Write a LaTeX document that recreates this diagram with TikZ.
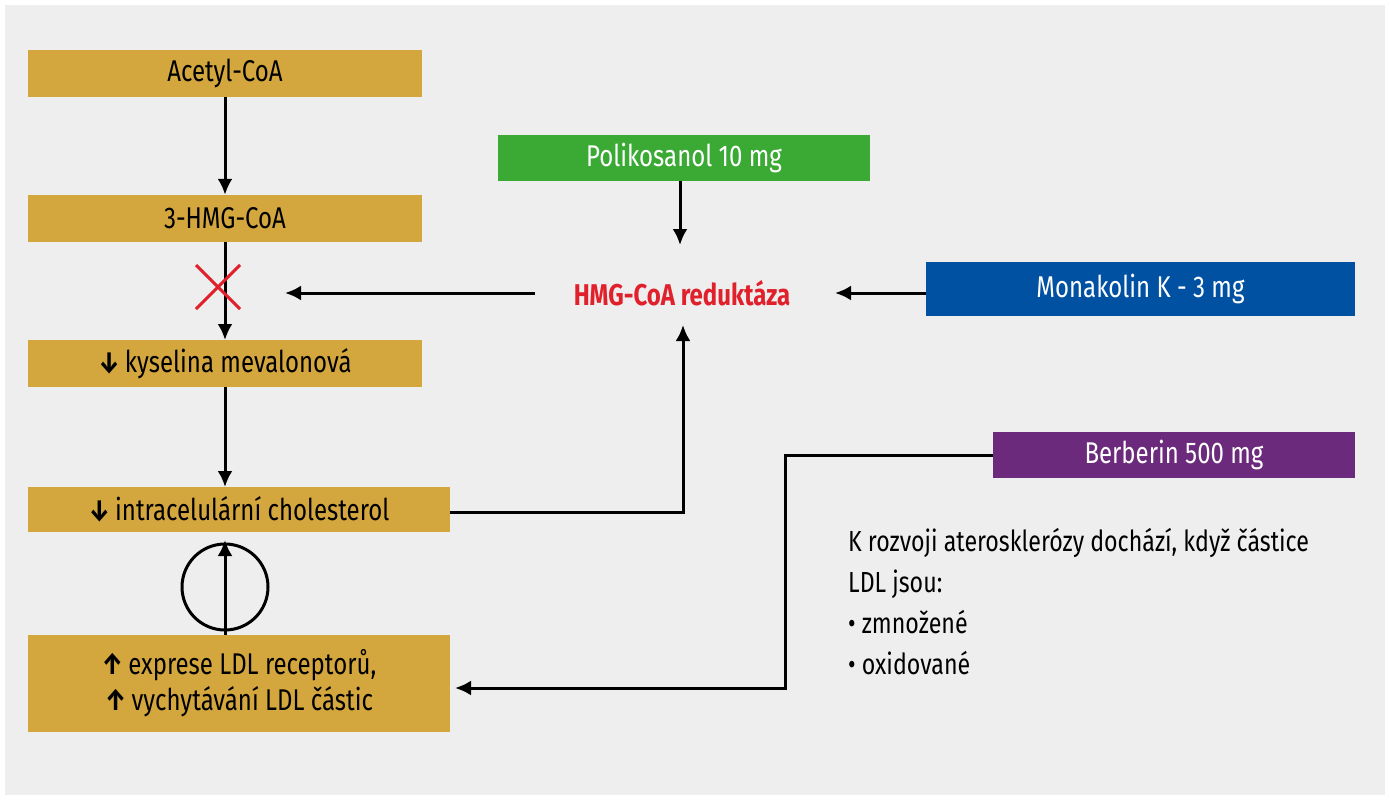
\documentclass[tikz,border=0pt]{standalone}
\usepackage{fontspec}
\setmainfont{Fira Sans}[FakeStretch=0.8]
\usetikzlibrary{arrows.meta,calc}
\definecolor{gold}{HTML}{D4A73E}
\definecolor{grn}{HTML}{3BAA35}
\definecolor{blu}{HTML}{0051A2}
\definecolor{pur}{HTML}{6B2A7B}
\definecolor{bg}{HTML}{EEEEEE}
\definecolor{rd}{HTML}{E0202A}
\begin{document}
\begin{tikzpicture}[x=1pt,y=-1pt,
 box/.style={draw=none,fill=gold,inner sep=0pt,font=\fontsize{30}{36}\selectfont,align=center},
 arr/.style={line width=3pt,-{Latex[length=16pt,width=15pt]}}]
\useasboundingbox (0,0) rectangle (1390,800);
\fill[white] (0,0) rectangle (1390,800);
\fill[bg] (5,5) rectangle (1385,795);
\node[box,minimum width=394,minimum height=47] (a) at (225,73.5) {Acetyl-CoA};
\node[box,minimum width=394,minimum height=47] (b) at (225,218.5) {3-HMG-CoA};
\node[box,minimum width=394,minimum height=47] (c) at (225,363.5) {\textbf{\char"2193}\,kyselina mevalonová};
\node[box,minimum width=422,minimum height=45] (d) at (239,509.5) {\textbf{\char"2193}\,intracelulární cholesterol};
\node[box,minimum width=422,minimum height=97] (e) at (239,683.5) {\textbf{\char"2191}\,exprese LDL receptorů,\\\textbf{\char"2191}\,vychytávání LDL částic};
\node[box,fill=grn,text=white,minimum width=372,minimum height=46] (p) at (684,158) {Polikosanol 10 mg};
\node[box,fill=blu,text=white,minimum width=429,minimum height=54] (m) at (1140.5,289) {Monakolin K - 3 mg};
\node[box,fill=pur,text=white,minimum width=362,minimum height=46] (bb) at (1174,455) {Berberin 500 mg};
\node[font=\fontsize{30}{36}\selectfont\bfseries,text=rd,inner sep=0pt] (h) at (682,293) {HMG-CoA reduktáza};
\node[font=\fontsize{29}{41}\selectfont,align=left,anchor=north west,inner sep=0pt] (t) at (848,528) {K rozvoji aterosklerózy dochází, když částice\\LDL jsou:\\• zmnožené\\• oxidované};
\coordinate (x) at (218,287);
\draw[arr] (a.south) -- (b.south|-b.north);
\draw[arr] (225,242) -- (225,340);
\draw[rd,line width=3pt] ($(x)+(-22,-22)$) -- ($(x)+(22,22)$) ($(x)+(22,-22)$) -- ($(x)+(-22,22)$);
\draw[arr] (c.south) -- (225,487);
\draw[arr] (535,293) -- (285,293);
\draw[arr] (m.west|-0,293) -- (835,293);
\draw[arr] (p.south-|680,0) -- (680,245);
\draw[arr] (d.east|-0,512) -- (683,512) -- (683,325);
\draw[arr] (bb.west) -- (785,455) -- (785,688) -- (455,688);
\node[draw,line width=3pt,circle,minimum size=86,inner sep=0pt] (o) at (225,587) {};
\draw[arr] (225,635) -- (225,540);
\end{tikzpicture}
\end{document}
